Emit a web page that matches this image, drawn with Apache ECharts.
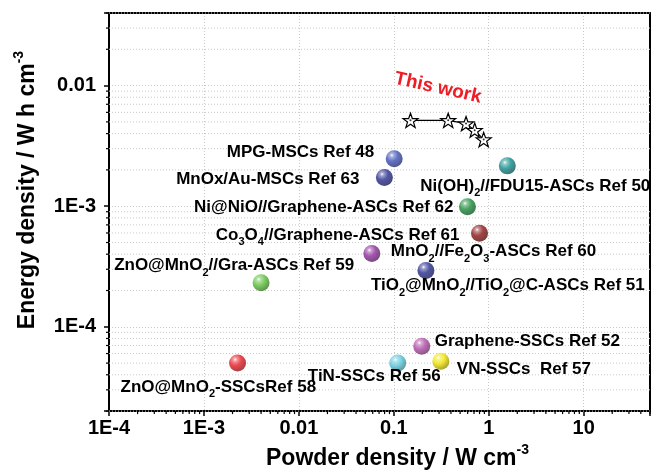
<!DOCTYPE html>
<html>
<head>
<meta charset="utf-8">
<script src="https://cdn.jsdelivr.net/npm/echarts@6/dist/echarts.min.js"></script>
<style>html,body{margin:0;padding:0;background:#fff}#c{width:653px;height:475px}</style>
</head>
<body>
<div id="c"></div>
<script>
// ---- data ----
const refLabels = [
  '{b|MPG-MSCs Ref 48}',
  '{b|MnOx/Au-MSCs Ref 63}',
  '{b|Ni(OH)}{s|2}{b|//FDU15-ASCs Ref 50}',
  '{b|Ni@NiO//Graphene-ASCs Ref 62}',
  '{b|Co}{s|3}{b|O}{s|4}{b|//Graphene-ASCs Ref 61}',
  '{b|MnO}{s|2}{b|//Fe}{s|2}{b|O}{s|3}{b|-ASCs Ref 60}',
  '{b|TiO}{s|2}{b|@MnO}{s|2}{b|//TiO}{s|2}{b|@C-ASCs Ref 51}',
  '{b|ZnO@MnO}{s|2}{b|//Gra-ASCs Ref 59}',
  '{b|Graphene-SSCs Ref 52}',
  '{b|ZnO@MnO}{s|2}{b|-SSCsRef 58}',
  '{b|TiN-SSCs Ref 56}',
  '{b|VN-SSCs  Ref 57}'
];
const refPower  = [0.101, 0.0796, 1.57, 0.597, 0.80, 0.0587, 0.218, 0.0040, 0.197, 0.00226, 0.110, 0.313];
const refEnergy = [0.00248, 0.00173, 0.00216, 0.00099, 0.000598, 0.000405, 0.000293, 0.000232, 0.000069, 0.0000502, 0.0000500, 0.0000519];

const thisWorkPower  = [0.150, 0.374, 0.577, 0.712, 0.885];
const thisWorkEnergy = [0.00515, 0.00515, 0.00484, 0.00427, 0.00357];

const xTickValues = [1e-4, 1e-3, 0.01, 0.1, 1, 10];
const xTickLabels = ['1E-4', '1E-3', '0.01', '0.1', '1', '10'];
const yTickValues = [1e-4, 1e-3, 0.01];
const yTickLabels = ['1E-4', '1E-3', '0.01'];
const X_MIN = 1e-4, X_MAX = 50, Y_MIN = 2e-5, Y_MAX = 0.04;

// ---- styles ----
const FONT = '"Liberation Sans", Arial, sans-serif';
const BALL = 17;
const ballColors = ['#3c50b6', '#262b8e', '#128c8c', '#1c8c3a', '#8c1616', '#8c2c9a',
                    '#262d8c', '#5cc03a', '#b04ba8', '#e81c24', '#5ac8dc', '#f0e400'];
// label placement: [align, dx, dy] relative to ball center
const labelPlace = [
  ['right', -20, -6], ['right', -25, 2], ['left', -87, 20], ['right', -14, 1],
  ['right', -20, 2], ['left', 19, -2], ['left', -55, 15], ['right', 93, -17],
  ['left', 13, -5], ['left', -117, 24], ['right', 43, 13], ['left', 16, 8]
];

function mix(hex, target, t) {
  const a = parseInt(hex.slice(1), 16), b = parseInt(target.slice(1), 16);
  const ch = (v, s) => (v >> s) & 255;
  const r = Math.round(ch(a,16) + (ch(b,16) - ch(a,16)) * t);
  const g = Math.round(ch(a,8) + (ch(b,8) - ch(a,8)) * t);
  const bl = Math.round(ch(a,0) + (ch(b,0) - ch(a,0)) * t);
  return 'rgb(' + r + ',' + g + ',' + bl + ')';
}
function ball(c) {
  return {
    type: 'radial', x: 0.36, y: 0.3, r: 0.78,
    colorStops: [
      {offset: 0, color: '#ffffff'},
      {offset: 0.14, color: mix(c, '#ffffff', 0.45)},
      {offset: 0.45, color: c},
      {offset: 1, color: mix(c, '#000000', 0.45)}
    ]
  };
}

function makeRich(size) {
  return {
    b: {fontSize: size, fontWeight: 'bold', fontFamily: FONT, color: '#000', lineHeight: size + 8,
        textBorderWidth: 0, opacity: 1},
    s: {fontSize: Math.round(size * 0.62), fontWeight: 'bold', fontFamily: FONT, color: '#000',
        lineHeight: Math.round(size * 0.62), verticalAlign: 'bottom', textBorderWidth: 0, opacity: 1},
    p: {fontSize: Math.round(size * 0.6), fontWeight: 'bold', fontFamily: FONT, color: '#000',
        lineHeight: Math.round(size * 0.6), verticalAlign: 'top', textBorderWidth: 0, opacity: 1}
  };
}

const refData = refPower.map((x, i) => ({
  value: [x, refEnergy[i]],
  itemStyle: {color: ball(ballColors[i])},
  label: {
    show: true, formatter: refLabels[i],
    position: [BALL / 2 + labelPlace[i][1], BALL / 2 + labelPlace[i][2]],
    color: '#000', textBorderWidth: 0, opacity: 1,
    fontSize: 17, fontWeight: 'bold', fontFamily: FONT,
    align: labelPlace[i][0], verticalAlign: 'middle',
    rich: makeRich(17)
  }
}));

const starPath = 'path://M0,-10L2.35,-3.24L9.51,-3.09L3.8,1.24L5.88,8.09L0,4L-5.88,8.09L-3.8,1.24L-9.51,-3.09L-2.35,-3.24Z';

// minor tick positions (2..9 x decade)
const minorMult = [2, 3, 4, 5, 6, 7, 8, 9];
function minorTicks(lo, hi) {
  const out = [];
  for (let e = Math.floor(Math.log10(lo)); e <= Math.ceil(Math.log10(hi)); e++) {
    minorMult.forEach(m => { const v = m * Math.pow(10, e); if (v >= lo * 0.999 && v <= hi * 1.001) out.push(v); });
  }
  return out;
}
const xMinor = minorTicks(X_MIN, X_MAX);
const yMinor = minorTicks(Y_MIN, Y_MAX);

function fmt(values, labels) {
  return function (v) {
    for (let i = 0; i < values.length; i++) {
      if (Math.abs(Math.log10(values[i]) - Math.log10(v)) < 1e-6) return labels[i];
    }
    return '';
  };
}

const axisCommon = {
  type: 'log', logBase: 10,
  axisLine: {show: true, onZero: false, lineStyle: {color: '#000', width: 2}},
  axisTick: {show: true, inside: false, length: 5, lineStyle: {color: '#000', width: 1.5}},
  splitLine: {show: true, lineStyle: {type: [1, 2], color: '#c8c8c8', width: 1}},
  axisLabel: {color: '#000', fontSize: 20, fontWeight: 'bold', fontFamily: FONT}
};
const frame = {
  type: 'log', logBase: 10,
  axisLine: {show: true, onZero: false, lineStyle: {color: '#000', width: 2}},
  axisTick: {show: false}, axisLabel: {show: false}, splitLine: {show: false}
};

const chart = echarts.init(document.getElementById('c'), null, {renderer: 'canvas'});
chart.setOption({
  animation: false,
  backgroundColor: '#fff',
  grid: {left: 109, right: 2.5, top: 13, bottom: 61, containLabel: false},
  xAxis: [
    Object.assign({}, axisCommon, {
      min: X_MIN, max: X_MAX, position: 'bottom',
      axisLabel: Object.assign({}, axisCommon.axisLabel, {margin: 7, formatter: fmt(xTickValues, xTickLabels)}),
      name: '{b|Powder density / W cm}{p|-3}', nameLocation: 'middle', nameGap: 30,
      nameTextStyle: {rich: makeRich(23), padding: [0, 0, 0, 36]}
    }),
    Object.assign({}, frame, {min: X_MIN, max: X_MAX, position: 'top'})
  ],
  yAxis: [
    Object.assign({}, axisCommon, {
      min: Y_MIN, max: Y_MAX, position: 'left',
      axisLabel: Object.assign({}, axisCommon.axisLabel, {margin: 13, formatter: fmt(yTickValues, yTickLabels)}),
      name: '{b|Energy density / W h cm}{p|-3}', nameLocation: 'middle', nameGap: 66,
      nameTextStyle: {rich: makeRich(23), padding: [0, 0, 0, 44]}
    }),
    Object.assign({}, frame, {min: Y_MIN, max: Y_MAX, position: 'right'})
  ],
  series: [
    {
      type: 'custom', name: 'yMinor', xAxisIndex: 0, yAxisIndex: 0, z: 1, silent: true,
      data: yMinor.map(v => [X_MIN, v]),
      renderItem: function (params, api) {
        const p = api.coord([X_MIN, api.value(1)]);
        const cs = params.coordSys;
        return {type: 'group', children: [
          {type: 'line', shape: {x1: cs.x, y1: p[1], x2: cs.x + cs.width, y2: p[1]},
           style: {stroke: '#c8c8c8', lineWidth: 1, lineDash: [1, 2]}},
          {type: 'line', shape: {x1: cs.x - 3, y1: p[1], x2: cs.x, y2: p[1]},
           style: {stroke: '#000', lineWidth: 1.2}}
        ]};
      }
    },
    {
      type: 'custom', name: 'xMinor', xAxisIndex: 0, yAxisIndex: 0, z: 1, silent: true,
      data: xMinor.map(v => [v, Y_MIN]),
      renderItem: function (params, api) {
        const p = api.coord([api.value(0), Y_MIN]);
        const cs = params.coordSys;
        const yb = cs.y + cs.height;
        return {type: 'line', shape: {x1: p[0], y1: yb, x2: p[0], y2: yb + 3},
                style: {stroke: '#000', lineWidth: 1.2}};
      }
    },
    {
      type: 'scatter', name: 'refs', symbol: 'circle', symbolSize: BALL, z: 3,
      data: refData
    },
    {
      type: 'line', name: 'This work', z: 4,
      data: thisWorkPower.map((x, i) => [x, thisWorkEnergy[i]]),
      symbol: starPath, symbolSize: 15, symbolKeepAspect: true, showAllSymbol: true,
      itemStyle: {color: '#fff', borderColor: '#000', borderWidth: 1.2},
      lineStyle: {color: '#000', width: 1.2}
    },
    {
      type: 'scatter', name: 'dots', z: 5, symbol: 'circle', symbolSize: 2, silent: true,
      data: thisWorkPower.map((x, i) => [x, thisWorkEnergy[i]]),
      itemStyle: {color: '#000'}
    }
  ],
  graphic: [
    {type: 'text', x: 438, y: 88, rotation: -0.22, z: 10,
     style: {text: 'This work', fill: '#ee1c25', fontSize: 19, fontWeight: 'bold', fontFamily: FONT,
             align: 'center', verticalAlign: 'middle'}}
  ]
});
</script>
</body>
</html>
